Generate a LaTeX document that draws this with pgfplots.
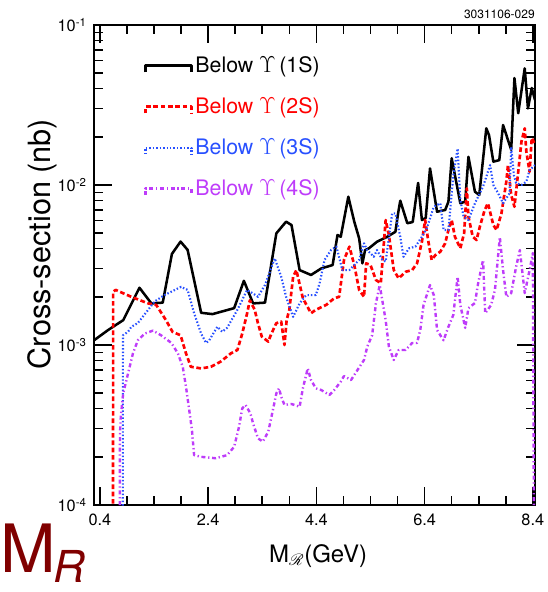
\documentclass[border=0pt]{standalone}
\usepackage{pgfplots}
\pgfplotsset{compat=1.18}
\usepackage{fontspec}
\setmainfont{TeX Gyre Heros}
\usepackage{mathrsfs}

\definecolor{c1s}{RGB}{0,0,0}
\definecolor{c2s}{RGB}{255,0,0}
\definecolor{c3s}{RGB}{40,80,255}
\definecolor{c4s}{RGB}{190,60,250}
\definecolor{mrcol}{RGB}{128,0,0}

\begin{document}
\begin{tikzpicture}
\useasboundingbox (0pt,0pt) rectangle (411pt,444pt);
\begin{axis}[
  scale only axis,
  width=330.75pt, height=360pt,
  at={(70.5pt,65.25pt)}, anchor=south west,
  ymode=log,
  xmin=0.29, xmax=8.44,
  ymin=1e-4, ymax=1e-1,
  xtick={0.4,2.4,4.4,6.4,8.4},
  minor x tick num=3,
  ytick={1e-4,1e-3,1e-2,1e-1},
  yticklabels={10\textsuperscript{-4},10\textsuperscript{-3},10\textsuperscript{-2},10\textsuperscript{-1}},
  tick label style={font=\fontsize{12.25}{14}\selectfont},
  xticklabel style={yshift=-3pt},
  yticklabel style={xshift=-2pt},
  major tick length=13.5pt,
  minor tick length=7pt,
  axis line style={line width=1.8pt},
  tick style={line width=1.2pt, black},
  legend cell align=left,
  legend style={at={(0.113,0.94)}, anchor=north west, draw=none, fill=none,
    inner sep=0pt, row sep=13.25pt, font=\fontsize{16}{19}\selectfont},
  legend image code/.code={\draw[#1] (0pt,-5pt) -- (0pt,0pt) -- (34.5pt,0pt) -- (34.5pt,-5pt);},
  /pgf/number format/fixed,
  /pgf/number format/fixed zerofill,
  /pgf/number format/precision=1,
  /pgf/number format/assume math mode=true,
]
% Below Upsilon(1S)
\addplot[c1s, line width=1.9pt, line join=round] coordinates {
(0.29,1.07e-3) (0.55,1.24e-3) (0.83,1.43e-3) (1.13,2.28e-3) (1.35,1.82e-3)
(1.56,1.84e-3) (1.73,3.71e-3) (1.89,4.43e-3) (2.02,3.93e-3) (2.27,1.59e-3)
(2.48,1.56e-3) (2.88,1.70e-3) (3.06,2.52e-3) (3.23,1.82e-3) (3.45,1.84e-3)
(3.66,4.99e-3) (3.84,5.90e-3) (3.94,5.62e-3) (4.09,2.94e-3) (4.30,2.74e-3)
(4.49,3.01e-3) (4.70,3.16e-3) (4.79,4.87e-3) (4.85,4.75e-3) (4.99,8.45e-3)
(5.10,5.90e-3) (5.19,4.64e-3) (5.25,3.24e-3) (5.30,3.92e-3) (5.37,4.02e-3)
(5.52,4.42e-3) (5.71,4.75e-3) (5.86,5.10e-3) (5.91,6.65e-3) (5.95,7.98e-3)
(6.08,5.77e-3) (6.18,5.87e-3) (6.28,1.03e-2) (6.35,6.04e-3) (6.42,6.22e-3)
(6.50,1.27e-2) (6.63,6.81e-3) (6.78,6.98e-3) (6.84,7.87e-3) (6.90,1.47e-2)
(7.06,7.69e-3) (7.15,7.87e-3) (7.21,1.50e-2) (7.33,9.08e-3) (7.41,8.66e-3)
(7.54,2.26e-2) (7.59,2.05e-2) (7.67,1.40e-2) (7.78,1.43e-2) (7.85,2.37e-2)
(8.00,1.66e-2) (8.06,4.66e-2) (8.13,2.81e-2) (8.25,5.36e-2) (8.31,3.01e-2)
(8.38,4.04e-2) (8.44,3.40e-2)
};
\addlegendentry{Below $\Upsilon$\,(1S)}
% Below Upsilon(2S)
\addplot[c2s, line width=2pt, dash pattern=on 3.5pt off 2pt, line join=round] coordinates {
(0.640,1e-5) (0.644,2.15e-3) (0.69,2.21e-3) (0.98,2.00e-3) (1.29,1.82e-3)
(1.44,1.78e-3) (1.62,1.43e-3) (1.74,1.21e-3) (1.89,1.15e-3) (1.99,8.87e-4)
(2.08,7.31e-4) (2.27,7.14e-4) (2.45,7.31e-4) (2.63,7.87e-4) (2.82,8.87e-4)
(2.94,9.31e-4) (3.03,1.18e-3) (3.12,1.58e-3) (3.17,1.90e-3) (3.26,1.66e-3)
(3.32,1.37e-3) (3.39,1.13e-3) (3.51,1.05e-3) (3.57,1.18e-3) (3.66,1.37e-3)
(3.75,1.40e-3) (3.81,1.00e-3) (3.85,1.43e-3) (3.90,1.66e-3) (3.97,2.67e-3)
(4.03,2.94e-3) (4.15,1.96e-3) (4.30,1.58e-3) (4.39,1.66e-3) (4.58,1.78e-3)
(4.73,1.96e-3) (4.82,2.00e-3) (4.91,3.40e-3) (5.01,4.12e-3) (5.10,3.16e-3)
(5.19,2.21e-3) (5.28,2.00e-3) (5.32,3.24e-3) (5.40,3.16e-3) (5.50,2.55e-3)
(5.59,2.43e-3) (5.68,6.04e-3) (5.74,4.87e-3) (5.83,2.94e-3) (5.92,2.61e-3)
(6.05,2.87e-3) (6.17,2.94e-3) (6.26,3.24e-3) (6.35,4.42e-3) (6.41,6.04e-3)
(6.47,4.42e-3) (6.53,3.40e-3) (6.60,3.65e-3) (6.69,3.83e-3) (6.78,4.32e-3)
(6.84,5.23e-3) (6.90,6.04e-3) (6.96,4.75e-3) (7.06,4.02e-3) (7.13,4.99e-3)
(7.18,9.53e-3) (7.21,6.34e-3) (7.29,4.75e-3) (7.36,4.53e-3) (7.42,5.48e-3)
(7.51,6.98e-3) (7.57,7.69e-3) (7.67,5.62e-3) (7.73,5.23e-3) (7.82,6.65e-3)
(7.91,1.05e-2) (7.94,1.33e-2) (8.00,8.66e-3) (8.06,7.31e-3) (8.13,1.21e-2)
(8.19,1.87e-2) (8.25,2.26e-2) (8.28,1.62e-2) (8.34,1.21e-2) (8.38,1.97e-2)
(8.44,1.80e-2)
};
\addlegendentry{\textcolor{c2s}{Below $\Upsilon$\,(2S)}}
% Below Upsilon(3S)
\addplot[c3s, line width=1.6pt, dash pattern=on 1.1pt off 1.5pt, line join=round] coordinates {
(0.820,1e-5) (0.825,1.15e-3) (0.92,1.21e-3) (0.98,1.30e-3) (1.10,1.37e-3)
(1.17,1.47e-3) (1.41,1.87e-3) (1.59,2.05e-3) (1.90,2.31e-3) (2.02,2.21e-3)
(2.14,1.58e-3) (2.27,1.18e-3) (2.36,1.03e-3) (2.42,1.07e-3) (2.57,1.30e-3)
(2.66,1.21e-3) (2.75,1.28e-3) (2.94,1.66e-3) (3.12,2.21e-3) (3.23,2.10e-3)
(3.32,2.00e-3) (3.45,2.37e-3) (3.63,3.48e-3) (3.75,2.67e-3) (3.84,2.00e-3)
(3.97,1.50e-3) (4.09,1.82e-3) (4.21,2.05e-3) (4.39,2.05e-3) (4.46,2.43e-3)
(4.55,3.40e-3) (4.67,3.92e-3) (4.77,4.12e-3) (4.88,2.94e-3) (5.01,2.94e-3)
(5.19,3.40e-3) (5.28,4.32e-3) (5.34,3.92e-3) (5.46,3.56e-3) (5.52,3.92e-3)
(5.62,3.40e-3) (5.68,3.32e-3) (5.80,6.65e-3) (5.86,6.65e-3) (5.95,4.75e-3)
(6.01,3.56e-3) (6.11,4.02e-3) (6.23,4.12e-3) (6.35,4.75e-3) (6.44,5.36e-3)
(6.57,7.31e-3) (6.69,7.69e-3) (6.75,5.23e-3) (6.84,5.23e-3) (6.93,1.15e-2)
(7.01,1.69e-2) (7.06,8.06e-3) (7.12,6.34e-3) (7.21,6.04e-3) (7.33,7.69e-3)
(7.48,9.76e-3) (7.61,1.33e-2) (7.67,1.00e-2) (7.76,8.87e-3) (7.85,7.69e-3)
(7.97,8.87e-3) (8.00,1.73e-2) (8.05,1.15e-2) (8.09,1.03e-2) (8.19,1.00e-2)
(8.28,1.05e-2) (8.34,1.24e-2) (8.44,1.33e-2)
};
\addlegendentry{\textcolor{c3s}{Below $\Upsilon$\,(3S)}}
% Below Upsilon(4S)
\addplot[c4s, line width=1.8pt, dash pattern=on 3pt off 2pt on 1pt off 2pt, line join=round] coordinates {
(0.760,1e-5) (0.770,2.80e-4) (0.785,3.56e-4) (0.83,4.99e-4) (0.92,6.65e-4)
(1.01,8.87e-4) (1.10,1.07e-3) (1.23,1.18e-3) (1.38,1.23e-3) (1.53,1.15e-3)
(1.72,1.03e-3) (1.84,8.87e-4) (1.93,7.31e-4) (1.99,5.48e-4) (2.05,3.92e-4)
(2.10,2.94e-4) (2.14,2.05e-4) (2.27,2.00e-4) (2.54,1.96e-4) (2.75,2.05e-4)
(2.88,2.31e-4) (2.97,3.08e-4) (3.03,4.02e-4) (3.09,4.22e-4) (3.18,3.74e-4)
(3.23,3.24e-4) (3.32,2.61e-4) (3.41,2.49e-4) (3.51,2.87e-4) (3.57,3.56e-4)
(3.66,4.99e-4) (3.71,5.36e-4) (3.75,4.75e-4) (3.81,4.22e-4) (3.94,4.28e-4)
(4.09,4.11e-4) (4.15,5.36e-4) (4.24,7.14e-4) (4.30,6.04e-4) (4.39,5.36e-4)
(4.49,5.23e-4) (4.64,4.87e-4) (4.73,5.23e-4) (4.85,5.90e-4) (4.91,6.40e-4)
(5.04,6.04e-4) (5.16,6.98e-4) (5.28,8.06e-4) (5.34,9.76e-4) (5.43,1.15e-3)
(5.50,1.82e-3) (5.57,2.37e-3) (5.68,1.43e-3) (5.74,9.76e-4) (5.83,8.06e-4)
(5.92,9.31e-4) (6.05,9.31e-4) (6.17,1.03e-3) (6.26,1.03e-3) (6.32,1.24e-3)
(6.38,1.78e-3) (6.50,2.37e-3) (6.57,2.05e-3) (6.63,1.24e-3) (6.75,1.07e-3)
(6.84,1.30e-3) (6.93,1.54e-3) (7.01,2.67e-3) (7.06,1.78e-3) (7.15,1.28e-3)
(7.21,1.70e-3) (7.33,1.83e-3) (7.39,2.44e-3) (7.48,3.40e-3) (7.52,1.58e-3)
(7.63,1.78e-3) (7.70,2.21e-3) (7.79,4.73e-3) (7.85,2.94e-3) (7.91,2.00e-3)
(8.00,2.11e-3) (8.09,3.07e-3) (8.16,3.92e-3) (8.25,2.11e-3) (8.34,2.94e-3)
(8.40,3.76e-3) (8.43,1e-5)
};
\addlegendentry{\textcolor{c4s}{Below $\Upsilon$\,(4S)}}
\end{axis}
\node[anchor=east, inner sep=0pt, font=\fontsize{9}{10}\selectfont] at (401.25pt,433.5pt) {3031106-029};
\node[rotate=90, inner sep=0pt, font=\fontsize{23}{26}\selectfont] at (31.5pt,261pt) {Cross-section (nb)};
\node[inner sep=0pt, font=\fontsize{18}{20}\selectfont] at (238.5pt,27pt) {M$_{\mathscr{R}}$(GeV)};
\node[anchor=base west, inner sep=0pt, text=mrcol, font=\fontsize{50}{50}\selectfont] at (0pt,14.25pt) {M};
\node[anchor=base west, inner sep=0pt, text=mrcol, font=\fontsize{33}{33}\selectfont\itshape] at (40pt,7pt) {R};
\end{tikzpicture}
\end{document}
